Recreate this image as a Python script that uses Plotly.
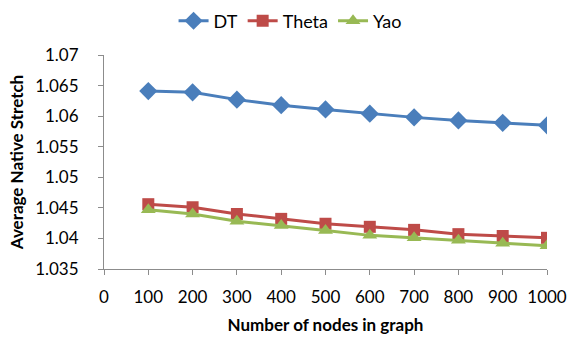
import plotly.graph_objects as go

nodes = [100, 200, 300, 400, 500, 600, 700, 800, 900, 1000]
dt = [1.0641, 1.0639, 1.0627, 1.0618, 1.0611, 1.0604, 1.0598, 1.0593, 1.0589, 1.0585]
theta = [1.0456, 1.0451, 1.0440, 1.0432, 1.0424, 1.0419, 1.0414, 1.0407, 1.0404, 1.0401]
yao = [1.0447, 1.0440, 1.0428, 1.0421, 1.0413, 1.0405, 1.0401, 1.0397, 1.0392, 1.0388]

x_ticks = [0, 100, 200, 300, 400, 500, 600, 700, 800, 900, 1000]
y_ticks = [1.035, 1.04, 1.045, 1.05, 1.055, 1.06, 1.065, 1.07]
y_labels = ["1.035", "1.04", "1.045", "1.05", "1.055", "1.06", "1.065", "1.07"]

FONT = "Lato"

series = [
    ("DT", dt, "#4A7EBB", "diamond", 14),
    ("Theta", theta, "#BE4B48", "square", 12),
    ("Yao", yao, "#98B954", "triangle-up", 13),
]

fig = go.Figure()
for name, vals, color, symbol, size in series:
    fig.add_trace(go.Scatter(
        x=nodes, y=vals, name=name, mode="lines+markers",
        line=dict(color=color, width=3),
        marker=dict(symbol=symbol, size=size, color=color),
    ))

axis_line = "#8C8C8C"
fig.update_layout(
    width=568, height=340,
    margin=dict(l=104, r=21, t=55, b=71, autoexpand=False),
    paper_bgcolor="white", plot_bgcolor="white",
    font=dict(family=FONT, color="#000000", size=18),
    showlegend=True,
    legend=dict(
        orientation="h", x=0.42, xanchor="center",
        y=1.245, yanchor="top",
        font=dict(size=18), itemwidth=30, tracegroupgap=0,
    ),
    xaxis=dict(
        range=[0, 1000], tickmode="array", tickvals=x_ticks,
        ticks="outside", ticklen=5, tickcolor=axis_line,
        showline=True, linecolor=axis_line, linewidth=1,
        showgrid=False, zeroline=False, automargin=False,
        tickfont=dict(size=17), ticklabelstandoff=8,
        title=dict(text="<b>Number of nodes in graph</b>", font=dict(size=17), standoff=12),
    ),
    yaxis=dict(
        range=[1.035, 1.07], tickmode="array", tickvals=y_ticks, ticktext=y_labels,
        ticks="outside", ticklen=5, tickcolor=axis_line,
        showline=True, linecolor=axis_line, linewidth=1,
        showgrid=False, zeroline=False, automargin=False,
        tickfont=dict(size=17), ticklabelstandoff=16,
        title=dict(text="<b>Average Native Stretch</b>", font=dict(size=17), standoff=7),
    ),
)

fig.write_html("out.html")
